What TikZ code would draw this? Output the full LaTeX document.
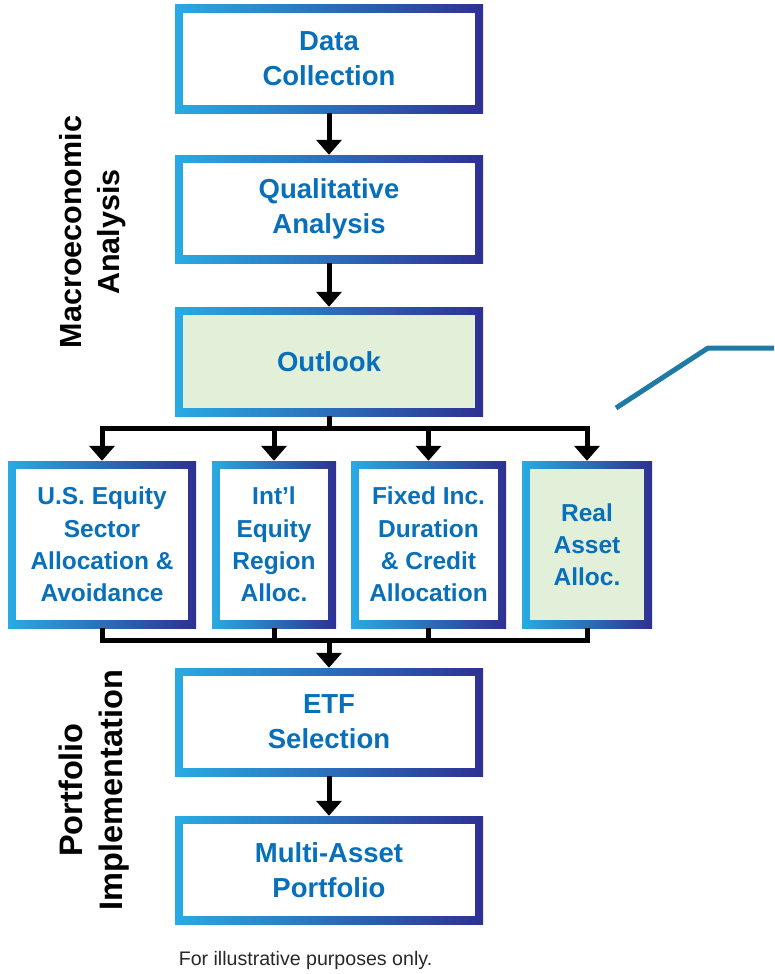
\documentclass[tikz,border=0pt]{standalone}
\usepackage{fontspec}
\setmainfont{Liberation Sans}
\usetikzlibrary{arrows.meta}
\definecolor{cL}{RGB}{41,171,226}
\definecolor{cR}{RGB}{46,49,146}
\definecolor{tb}{RGB}{8,112,186}
\definecolor{gfill}{RGB}{226,239,217}
\definecolor{teal}{RGB}{31,123,165}
\definecolor{foot}{RGB}{40,40,40}
\tikzset{
  gbox/.style={rectangle, inner sep=0pt, left color=cL, right color=cR,
    path picture={\fill[#1] ([shift={(8pt,-8pt)}]path picture bounding box.north west)
      rectangle ([shift={(-8pt,8pt)}]path picture bounding box.south east);},
    text=tb, align=center},
  gbox/.default=white,
  bigbox/.style={gbox=#1, minimum width=308pt, minimum height=108pt,
    font=\fontsize{27.5}{35}\selectfont\bfseries},
  bigbox/.default=white,
  midbox/.style={gbox=#1, minimum height=167pt,
    font=\fontsize{24.5}{32.2}\selectfont\bfseries},
  midbox/.default=white,
  conn/.style={line width=5pt, black},
  arr/.style={conn, -{Triangle[width=25pt,length=15pt]}},
  side/.style={rotate=90, align=center, text=black},
}
\begin{document}
\begin{tikzpicture}[x=1pt,y=-1pt]
\useasboundingbox (0,0) rectangle (774,974);
% top column
\node[bigbox] (dc) at (329,59) {Data\\Collection};
\node[bigbox] (qa) at (329,209) {Qualitative\\Analysis};
\node[bigbox=gfill, minimum height=109pt] (ol) at (329,361.5) {Outlook};
% middle row
\node[midbox, minimum width=188pt] (us) at (102,544.5) {U.S. Equity\\Sector\\Allocation \&\\Avoidance};
\node[midbox, minimum width=124pt] (in) at (274,544.5) {Int’l\\Equity\\Region\\Alloc.};
\node[midbox, minimum width=155pt] (fi) at (428.5,544.5) {Fixed Inc.\\Duration\\\& Credit\\Allocation};
\node[midbox=gfill, minimum width=130pt] (ra) at (587,544.5) {Real\\Asset\\Alloc.};
% bottom column
\node[bigbox] (etf) at (329,722) {ETF\\Selection};
\node[bigbox] (ma) at (329,870) {Multi-Asset\\Portfolio};
% side labels
\node[side, font=\fontsize{30.5}{38}\selectfont\bfseries] (mac) at (93,232) {Macroeconomic\\Analysis};
\node[side, font=\fontsize{32.5}{40}\selectfont\bfseries] (pim) at (94,790) {Portfolio\\Implementation};
% footer
\node[anchor=base, text=foot, font=\fontsize{19.6}{22}\selectfont, inner sep=0pt] (ft) at (305.5,965) {For illustrative purposes only.};
% connectors
\draw[arr] (dc.south) -- (qa.north);
\draw[arr] (qa.south) -- (ol.north);
\coordinate (br) at (329,428);
\draw[conn] (ol.south) -- (br);
\draw[conn, line cap=rect] (us.north |- br) -- (ra.north |- br);
\foreach \n in {us,in,fi,ra}{
  \draw[arr] (\n.north |- br) -- (\n.north);
}
\coordinate (mg) at (329,640);
\foreach \n in {us,in,fi,ra}{
  \draw[conn] (\n.south) -- (\n.south |- mg);
}
\draw[conn, line cap=rect] (us.south |- mg) -- (ra.south |- mg);
\draw[arr] (mg) -- (etf.north);
\draw[arr] (etf.south) -- (ma.north);
% callout line
\coordinate (c1) at (616,408);
\coordinate (c2) at (708,348);
\coordinate (c3) at (774,348);
\draw[teal, line width=5pt] (c1) -- (c2) -- (c3);
\end{tikzpicture}
\end{document}
